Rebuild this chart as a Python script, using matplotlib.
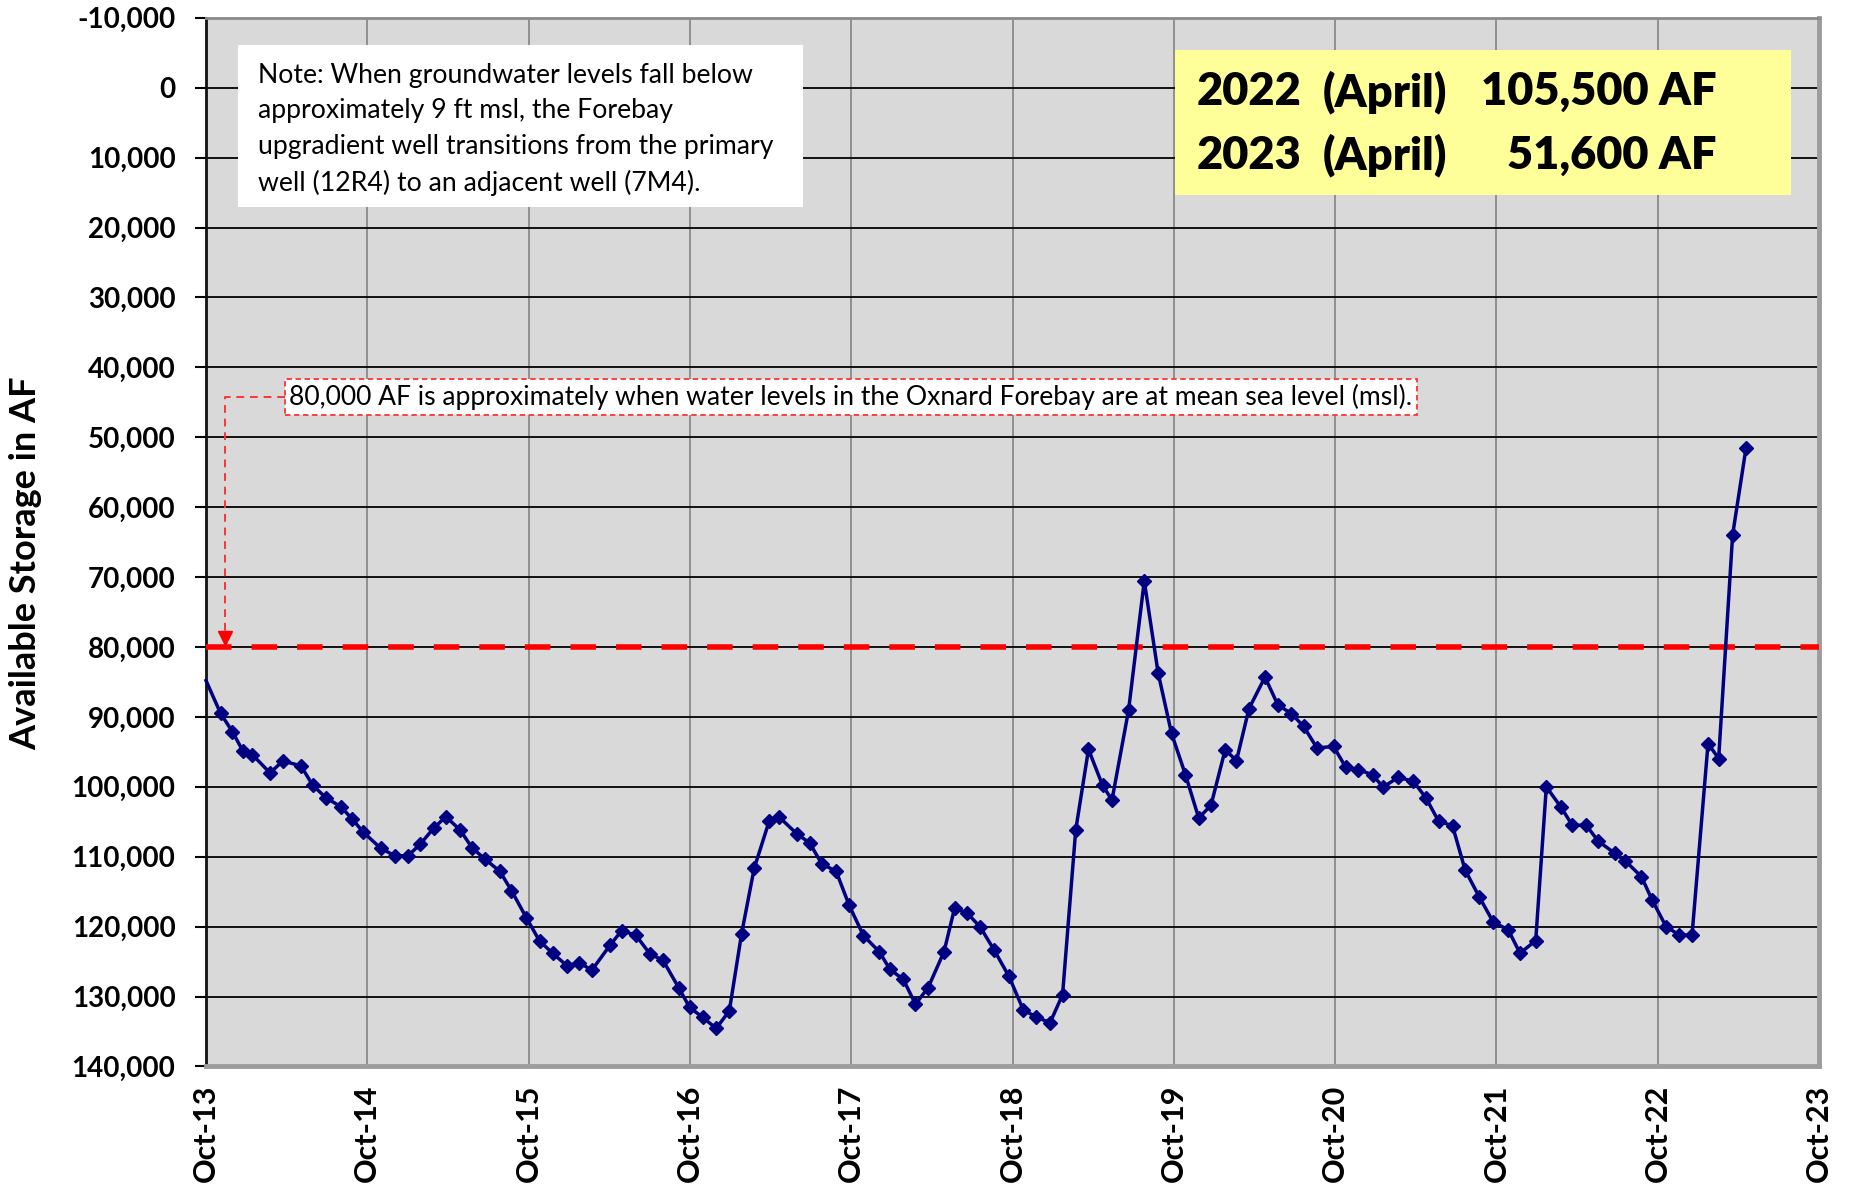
import matplotlib
matplotlib.use("Agg")
import matplotlib.pyplot as plt
from matplotlib.patches import Rectangle
from matplotlib.ticker import FuncFormatter, MultipleLocator

plt.rcParams['font.family'] = ['Lato', 'DejaVu Sans']

# months after Oct-2013 and available storage (AF) at each measurement
months = [0.0, 1.08, 1.97, 2.76, 3.45, 4.76, 5.72, 7.07, 7.93, 8.92,
          10.03, 10.89, 11.70, 12.99, 14.04, 15.03, 15.94, 16.93, 17.84, 18.90,
          19.81, 20.75, 21.86, 22.72, 23.83, 24.81, 25.80, 26.86, 27.77, 28.70,
          30.06, 30.92, 31.98, 33.02, 34.00, 35.19, 35.98, 36.96, 37.95, 38.93,
          39.84, 40.78, 41.89, 42.63, 43.99, 44.90, 45.83, 46.87, 47.85, 48.91,
          50.09, 50.88, 51.87, 52.78, 53.72, 54.90, 55.69, 56.63, 57.61, 58.65,
          59.73, 60.80, 61.73, 62.79, 63.72, 64.70, 65.65, 66.70, 67.40, 68.63,
          69.80, 70.83, 71.83, 72.86, 73.85, 74.76, 75.82, 76.66, 77.59, 78.78,
          79.74, 80.75, 81.66, 82.65, 83.88, 84.79, 85.73, 86.79, 87.57, 88.68,
          89.81, 90.75, 91.69, 92.73, 93.67, 94.71, 95.75, 96.89, 97.75, 98.92,
          99.71, 100.78, 101.64, 102.68, 103.57, 104.81, 105.60, 106.79, 107.58, 108.62,
          109.60, 110.55, 111.74, 112.53, 113.57, 114.56]
storage = [84800, 89480, 92130, 94930, 95400, 98010, 96300, 97010, 99760, 101560,
           102840, 104640, 106490, 108770, 109860, 109860, 108200, 105920, 104270, 106160,
           108770, 110330, 112090, 114830, 118720, 122040, 123840, 125590, 125150, 126230,
           122650, 120570, 121230, 123890, 124830, 128820, 131560, 132990, 134550, 132060,
           121040, 111660, 104930, 104310, 106780, 108010, 111090, 112040, 116970, 121280,
           123600, 126110, 127540, 131090, 128720, 123600, 117350, 118060, 120090, 123410,
           127100, 131900, 132900, 133740, 129750, 106180, 94640, 99810, 101880, 89060,
           70550, 83700, 92370, 98250, 104450, 102650, 94690, 96260, 88810, 84310,
           88290, 89530, 91370, 94450, 94220, 97200, 97540, 98290, 100050, 98650,
           99190, 101570, 104900, 105570, 111900, 115710, 119300, 120500, 123800, 122000,
           100000, 102860, 105480, 105500, 107760, 109520, 110620, 112860, 116190, 120000,
           121200, 121200, 93810, 95950, 63950, 51600]

year_ticks = [0, 12, 24, 36, 48, 60, 72, 84, 96, 108, 120]
year_labels = ['Oct-13', 'Oct-14', 'Oct-15', 'Oct-16', 'Oct-17', 'Oct-18',
               'Oct-19', 'Oct-20', 'Oct-21', 'Oct-22', 'Oct-23']

msl_storage = 80000
april_years = ['2022', '2023']
april_values = [105500, 51600]

note_text = ("Note: When groundwater levels fall below\n"
             "approximately 9 ft msl, the Forebay\n"
             "upgradient well transitions from the primary\n"
             "well (12R4) to an adjacent well (7M4).")
msl_text = ("80,000 AF is approximately when water levels in the "
            "Oxnard Forebay are at mean sea level (msl).")

navy = '#000080'

fig = plt.figure(figsize=(18.56, 11.88), dpi=100)
ax = fig.add_axes([0.1110, 0.1023, 0.8691, 0.8827])
ax.set_facecolor('#d9d9d9')

ax.set_xlim(0, 120)
ax.set_ylim(140000, -10000)

ax.yaxis.set_major_locator(MultipleLocator(10000))
ax.yaxis.set_major_formatter(FuncFormatter(lambda v, p: f'{v:,.0f}'))
ax.set_xticks(year_ticks)
ax.set_xticklabels(year_labels, rotation=90)

ax.grid(axis='y', color='#111111', lw=1.4)
ax.grid(axis='x', color='#8a8a8a', lw=1.3)
ax.set_axisbelow(True)

ax.tick_params(axis='y', length=8, width=1.5, pad=14, labelsize=20)
ax.tick_params(axis='x', length=0, pad=13, labelsize=22)
for lab in ax.get_xticklabels() + ax.get_yticklabels():
    lab.set_fontweight('bold')

ax.spines['left'].set_color('#111111')
ax.spines['left'].set_linewidth(2)
ax.spines['top'].set_color('#8a8a8a')
ax.spines['top'].set_linewidth(2)
for side in ['right', 'bottom']:
    ax.spines[side].set_color('#9c9c9c')
    ax.spines[side].set_linewidth(3.5)

ax.set_ylabel('Available Storage in AF', fontsize=26, fontweight='bold', va='center')
ax.yaxis.set_label_coords(-0.1116, 0.48)

# 80,000 AF reference line
ax.axhline(msl_storage, color='#ff0000', lw=4, dashes=(4.6, 3.6), zorder=3)

# storage series, first point sits on the axis without a marker
ax.plot(months, storage, color=navy, lw=2.5, marker='D', ms=7.5,
        mec=navy, mfc=navy, markevery=slice(1, None), zorder=4, clip_on=False)

# dashed leader from the msl label down to the reference line
lead_x = 1.4
ax.plot([5.9, lead_x, lead_x], [44250, 44250, 78900], color='#ff3333',
        lw=1.4, ls=(0, (4, 3)), zorder=3)
ax.plot(lead_x, 78700, marker='v', ms=10, color='#ff0000', zorder=3)
ax.text(6.2, 44250, msl_text, fontsize=19.1, va='center', ha='left', zorder=5,
        bbox=dict(boxstyle='square,pad=0.18', fc='white', ec='#ff3333',
                  ls=(0, (3, 2)), lw=1.3))

# note box
ax.add_patch(Rectangle((0.0198, 0.8196), 0.3503, 0.1545, transform=ax.transAxes,
                       fc='white', ec='none', zorder=5))
ax.text(0.0322, 0.8937, note_text, transform=ax.transAxes, fontsize=19.2,
        va='center', ha='left', linespacing=1.52, zorder=6)

# April storage summary box
ax.add_patch(Rectangle((0.6007, 0.8310), 0.3819, 0.1383, transform=ax.transAxes,
                       fc='#ffff99', ec='none', zorder=5))
for yy, yr, val in zip([0.9293, 0.8690], april_years, april_values):
    ax.text(0.6140, yy, yr, transform=ax.transAxes, fontsize=32.5,
            fontweight='heavy', va='center', ha='left', zorder=6)
    ax.text(0.6925, yy, '(April)', transform=ax.transAxes, fontsize=32.5,
            fontweight='heavy', va='center', ha='left', zorder=6)
    ax.text(0.9362, yy, f'{val:,} AF', transform=ax.transAxes, fontsize=32.5,
            fontweight='heavy', va='center', ha='right', zorder=6)

fig.savefig('out.png', dpi=100)
